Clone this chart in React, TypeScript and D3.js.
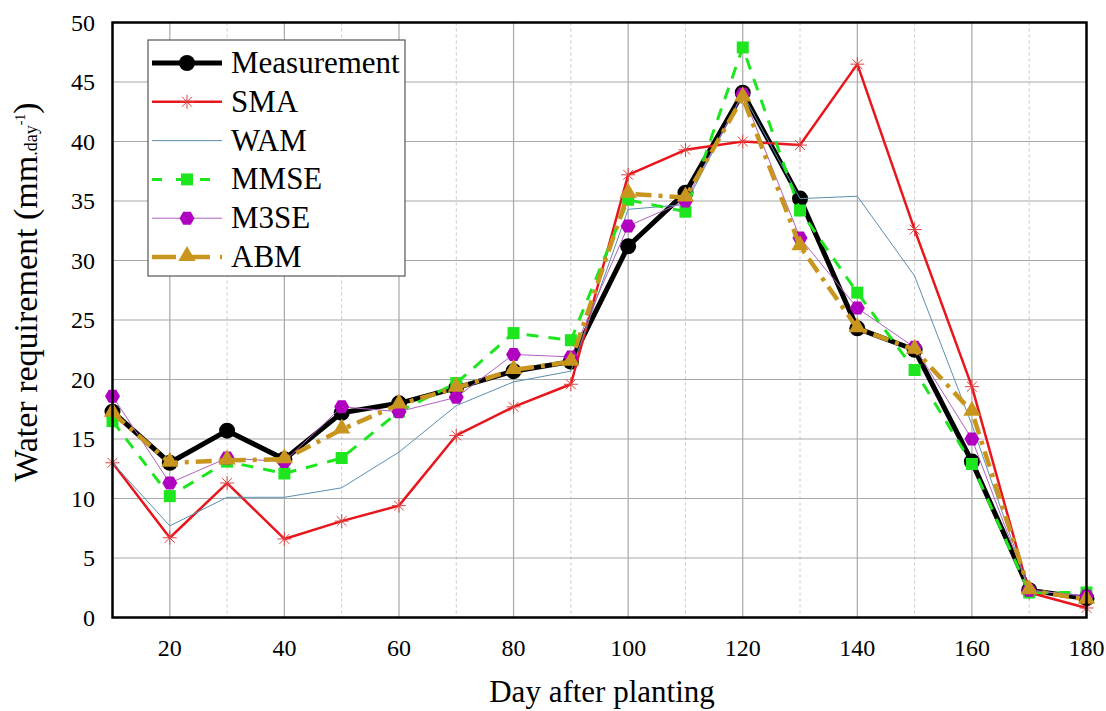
import * as d3 from "d3";
import React from "react";

const days = [10, 20, 30, 40, 50, 60, 70, 80, 90, 100, 110, 120, 130, 140, 150, 160, 170, 180];

const measurement = [17.3, 13.0, 15.7, 13.3, 17.2, 18.0, 19.3, 20.7, 21.5, 31.2, 35.7, 44.1, 35.2, 24.3, 22.5, 13.1, 2.3, 1.6];
const sma = [13.0, 6.7, 11.3, 6.6, 8.1, 9.4, 15.3, 17.7, 19.6, 37.2, 39.3, 40.0, 39.7, 46.5, 32.6, 19.4, 2.1, 0.8];
const wam = [13.0, 7.7, 10.1, 10.1, 10.9, 13.9, 17.8, 19.8, 20.7, 34.3, 34.7, 44.0, 35.2, 35.4, 28.7, 16.2, 2.3, 1.8];
const mmse = [16.5, 10.2, 13.1, 12.1, 13.4, 17.3, 19.7, 23.9, 23.3, 35.1, 34.1, 47.9, 34.2, 27.3, 20.8, 12.9, 2.1, 2.1];
const m3se = [18.6, 11.3, 13.4, 13.1, 17.7, 17.3, 18.5, 22.1, 21.9, 32.9, 35.0, 44.0, 31.9, 26.0, 22.7, 15.0, 2.3, 1.8];
const abm = [17.2, 13.0, 13.2, 13.3, 15.8, 17.9, 19.3, 20.8, 21.5, 35.6, 35.3, 43.7, 31.2, 24.3, 22.5, 17.3, 2.3, 1.5];

const yTicks = [0, 5, 10, 15, 20, 25, 30, 35, 40, 45, 50];
const xTicks = [20, 40, 60, 80, 100, 120, 140, 160, 180];

const font = "'Liberation Serif', 'Times New Roman', serif";

const left = 112.5, right = 1086.5, top = 22.5, bottom = 617.5;

const x = d3.scaleLinear().domain([10, 180]).range([left, right]);
const y = d3.scaleLinear().domain([0, 50]).range([bottom, top]);

type Marker = "circle" | "star" | "none" | "square" | "hex" | "tri";

const hexPath = (r: number) => {
  const pts = d3.range(6).map((i) => {
    const a = (Math.PI / 3) * i;
    return [r * Math.cos(a), r * Math.sin(a)];
  });
  return "M" + pts.map((p) => p.join(",")).join("L") + "Z";
};

function MarkerShape({ type, cx, cy, color }: { type: Marker; cx: number; cy: number; color: string }) {
  if (type === "circle") return <circle cx={cx} cy={cy} r={8} fill="#000" />;
  if (type === "square") return <rect x={cx - 6} y={cy - 6} width={12} height={12} fill={color} />;
  if (type === "hex") return <path d={hexPath(7.5)} transform={`translate(${cx},${cy})`} fill={color} />;
  if (type === "tri")
    return <path d={d3.symbol().type(d3.symbolTriangle).size(130)() || ""} transform={`translate(${cx},${cy - 1})`} fill={color} />;
  if (type === "star") {
    const r = 7;
    const d = d3.range(4).map((i) => {
      const a = (Math.PI / 4) * i;
      return `M${cx - r * Math.cos(a)},${cy - r * Math.sin(a)}L${cx + r * Math.cos(a)},${cy + r * Math.sin(a)}`;
    }).join("");
    return <path d={d} stroke="#e04040" strokeWidth={1} fill="none" />;
  }
  return null;
}

const series: { name: string; values: number[]; color: string; width: number; dash?: string; marker: Marker; lineColor?: string }[] = [
  { name: "Measurement", values: measurement, color: "#000", width: 5, marker: "circle" },
  { name: "SMA", values: sma, color: "#e8161c", width: 2.5, marker: "star" },
  { name: "WAM", values: wam, color: "#5a8fb0", width: 1, marker: "none" },
  { name: "MMSE", values: mmse, color: "#1ee61e", width: 3, dash: "12,10", marker: "square" },
  { name: "M3SE", values: m3se, color: "#b000c0", width: 1, marker: "hex", lineColor: "#b060c0" },
  { name: "ABM", values: abm, color: "#c8961e", width: 4.5, dash: "16,7,4,7", marker: "tri" },
];

export default function App() {
  const line = d3.line<number>().x((_, i) => x(days[i])).y((v) => y(v));
  const legendX = 148, legendY = 40, legendRow = 38.8;
  return (
    <svg width={1106} height={711} style={{ position: "absolute", left: 0, top: 0, background: "#fff" }}>
      {/* minor grid */}
      {d3.range(30, 180, 20).map((d) => (
        <line key={"mx" + d} x1={x(d)} x2={x(d)} y1={top} y2={bottom} stroke="#c8c8c8" strokeDasharray="3,3" strokeWidth={1} />
      ))}
      {xTicks.map((d) => (
        <line key={"gx" + d} x1={x(d)} x2={x(d)} y1={top} y2={bottom} stroke="#a8a8a8" strokeWidth={1.2} />
      ))}
      {yTicks.map((d) => (
        <line key={"gy" + d} x1={left} x2={right} y1={y(d)} y2={y(d)} stroke="#a8a8a8" strokeWidth={1.2} />
      ))}

      {series.map((s) => (
        <g key={s.name}>
          <path d={line(s.values) || ""} fill="none" stroke={s.lineColor || s.color} strokeWidth={s.width} strokeDasharray={s.dash} strokeLinejoin="round" />
          {s.values.map((v, i) => (
            <MarkerShape key={i} type={s.marker} cx={x(days[i])} cy={y(v)} color={s.color} />
          ))}
        </g>
      ))}

      <rect x={left} y={top} width={right - left} height={bottom - top} fill="none" stroke="#000" strokeWidth={2.5} />

      {yTicks.map((d) => (
        <text key={"ty" + d} x={95} y={y(d) + 8} textAnchor="end" fontFamily={font} fontSize={24}>{d}</text>
      ))}
      {xTicks.map((d) => (
        <text key={"tx" + d} x={x(d)} y={656} textAnchor="middle" fontFamily={font} fontSize={24}>{d}</text>
      ))}
      <text x={602} y={702} textAnchor="middle" fontFamily={font} fontSize={31}>Day after planting</text>
      <text transform="translate(37,292) rotate(-90)" textAnchor="middle" fontFamily={font} fontSize={34}>
        Water requirement (mm<tspan fontSize={18}>.day</tspan><tspan fontSize={14} dy={-12}>-1</tspan><tspan dy={12}>)</tspan>
      </text>

      {/* legend */}
      <rect x={legendX} y={legendY} width={257} height={236} fill="#fff" stroke="#555" strokeWidth={1.2} />
      {series.map((s, i) => {
        const cy = legendY + 23 + i * legendRow;
        return (
          <g key={"lg" + s.name}>
            <line x1={152} x2={222} y1={cy} y2={cy} stroke={s.lineColor || s.color} strokeWidth={s.width} strokeDasharray={s.dash ? (s.name === "MMSE" ? "10,14" : "24,10") : undefined} />
            <MarkerShape type={s.marker} cx={187} cy={cy} color={s.color} />
            <text x={231} y={cy + 10} fontFamily={font} fontSize={31}>{s.name}</text>
          </g>
        );
      })}
    </svg>
  );
}
